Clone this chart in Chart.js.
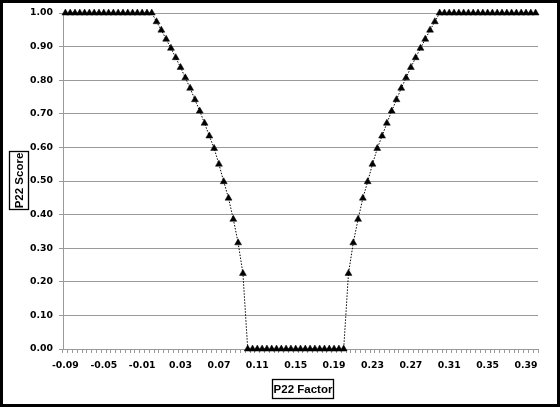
<!DOCTYPE html>
<html>
<head>
<meta charset="utf-8">
<script src="https://cdn.jsdelivr.net/npm/chart.js@4/dist/chart.umd.min.js"></script>
<style>
  body { margin: 0; background: #fff; }
  #wrap { width: 560px; height: 407px; }
</style>
</head>
<body>
<div id="wrap"><canvas id="myChart" width="560" height="407"></canvas></div>
<script>
// P22 factor categories (step 0.005)
var categories = [
  -0.09, -0.085, -0.08, -0.075, -0.07, -0.065, -0.06, -0.055, -0.05, -0.045,
  -0.04, -0.035, -0.03, -0.025, -0.02, -0.015, -0.01, -0.005, 0, 0.005,
  0.01, 0.015, 0.02, 0.025, 0.03, 0.035, 0.04, 0.045, 0.05, 0.055,
  0.06, 0.065, 0.07, 0.075, 0.08, 0.085, 0.09, 0.095, 0.1, 0.105,
  0.11, 0.115, 0.12, 0.125, 0.13, 0.135, 0.14, 0.145, 0.15, 0.155,
  0.16, 0.165, 0.17, 0.175, 0.18, 0.185, 0.19, 0.195, 0.2, 0.205,
  0.21, 0.215, 0.22, 0.225, 0.23, 0.235, 0.24, 0.245, 0.25, 0.255,
  0.26, 0.265, 0.27, 0.275, 0.28, 0.285, 0.29, 0.295, 0.3, 0.305,
  0.31, 0.315, 0.32, 0.325, 0.33, 0.335, 0.34, 0.345, 0.35, 0.355,
  0.36, 0.365, 0.37, 0.375, 0.38, 0.385, 0.39, 0.395, 0.4
];

// P22 score
var scores = [
  1, 1, 1, 1, 1, 1, 1, 1, 1, 1,
  1, 1, 1, 1, 1, 1, 1, 1, 1, 0.974,
  0.949, 0.922, 0.895, 0.867, 0.838, 0.807, 0.776, 0.742, 0.708, 0.672,
  0.634, 0.597, 0.550, 0.498, 0.449, 0.386, 0.316, 0.225, 0, 0,
  0, 0, 0, 0, 0, 0, 0, 0, 0, 0,
  0, 0, 0, 0, 0, 0, 0, 0, 0, 0.225,
  0.316, 0.386, 0.449, 0.498, 0.550, 0.597, 0.634, 0.672, 0.708, 0.742,
  0.776, 0.807, 0.838, 0.867, 0.895, 0.922, 0.949, 0.974, 1, 1,
  1, 1, 1, 1, 1, 1, 1, 1, 1, 1,
  1, 1, 1, 1, 1, 1, 1, 1, 1
];

// labelled x ticks
var xTickValues = [-0.09, -0.05, -0.01, 0.03, 0.07, 0.11, 0.15, 0.19, 0.23, 0.27, 0.31, 0.35, 0.39];

var xTitle = 'P22 Factor';
var yTitle = 'P22 Score';

var tickFont = { family: 'DejaVu Sans', weight: 'bold', size: 9.3 };
var gridGray = '#9a9a9a';

// frame + boxed axis titles, Excel style
var excelBits = {
  id: 'excelBits',
  beforeDraw: function(chart) {
    var c = chart.ctx;
    c.save();
    c.fillStyle = '#fff';
    c.fillRect(0, 0, chart.width, chart.height);
    c.restore();
  },
  afterDraw: function(chart) {
    var c = chart.ctx;
    c.save();
    c.font = 'bold 11.5px "Liberation Sans"';
    c.fillStyle = '#000';
    c.strokeStyle = '#000';
    c.lineWidth = 1.3;
    c.textAlign = 'center';
    c.textBaseline = 'middle';

    // x title
    c.strokeRect(272.5, 379.5, 61, 19);
    c.fillText(xTitle, 303, 389.5);

    // y title
    c.strokeRect(9.5, 151.5, 19, 58);
    c.translate(19.5, 180.5);
    c.rotate(-Math.PI / 2);
    c.fillText(yTitle, 0, 0);
    c.restore();

    // outer frame
    c.save();
    c.strokeStyle = '#000';
    c.lineWidth = 3;
    c.strokeRect(1.5, 1.5, chart.width - 3, chart.height - 3);
    c.restore();
  }
};

var ctx = document.getElementById('myChart').getContext('2d');
var chart = new Chart(ctx, {
    type: 'line',
    data: {
        labels: categories,
        datasets: [{
            data: scores,
            clip: false,
            borderColor: '#000',
            borderWidth: 1,
            borderDash: [1.5, 1.5],
            tension: 0,
            pointStyle: 'triangle',
            pointRadius: 4,
            pointBackgroundColor: '#000',
            pointBorderColor: '#000',
            pointBorderWidth: 0.5
        }]
    },
    options: {
        responsive: false,
        animation: false,
        layout: { padding: { left: 0, right: 22, top: 13, bottom: 0 } },
        plugins: {
            legend: { display: false },
            tooltip: { enabled: false }
        },
        scales: {
            x: {
                type: 'category',
                offset: true,
                afterFit: function(scale) { scale.height = 58; },
                grid: {
                    offset: true,
                    drawOnChartArea: false,
                    drawTicks: true,
                    tickLength: 4,
                    color: gridGray
                },
                border: { display: true, color: gridGray },
                ticks: {
                    autoSkip: false,
                    maxRotation: 0,
                    padding: 7,
                    color: '#000',
                    font: tickFont,
                    callback: function(val, i) {
                        var v = categories[i];
                        return xTickValues.indexOf(v) >= 0 ? v.toFixed(2) : '';
                    }
                }
            },
            y: {
                min: 0,
                max: 1,
                afterFit: function(scale) { scale.width = 63; },
                grid: { color: gridGray, tickLength: 4 },
                border: { display: true, color: gridGray },
                ticks: {
                    stepSize: 0.1,
                    padding: 6,
                    color: '#000',
                    font: tickFont,
                    callback: function(v) { return v.toFixed(2); }
                }
            }
        }
    },
    plugins: [excelBits]
});
</script>
</body>
</html>
